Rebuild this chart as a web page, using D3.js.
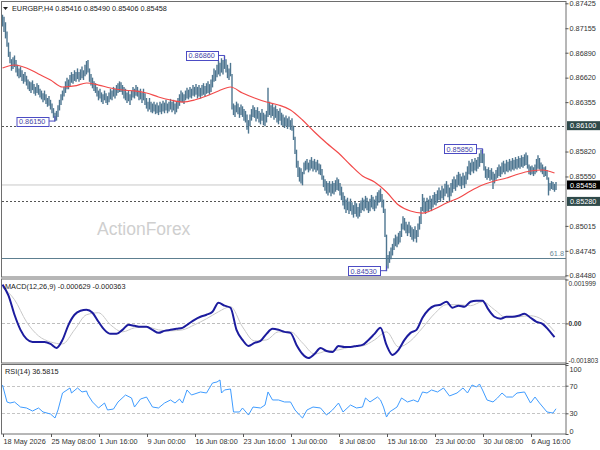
<!DOCTYPE html>
<html>
<head>
<meta charset="utf-8">
<script src="https://cdn.jsdelivr.net/npm/d3@7"></script>
<style>
body { margin: 0; background: #fff; }
text { font-family: "Liberation Sans", Arial, sans-serif; }
</style>
</head>
<body>
<svg id="chart" width="600" height="450"></svg>
<script>
//dimensions of the svg
var width = 600, height = 450;

//EURGBP H4 bars (one entry per bar)
var highs = [
 .8730,.8728,.8722,.8712,.8700,.8690,.8682,.8684,.8686,.8681,
 .8676,.8672,.8674,.8670,.8666,.8668,.8664,.8660,.8658,.8657,
 .8659,.8655,.8652,.8656,.8654,.8650,.8648,.8645,.8648,.8644,
 .8640,.8642,.8638,.8634,.8629,.8624,.8626,.8632,.8638,.8644,
 .8648,.8652,.8658,.8662,.8660,.8665,.8668,.8666,.8670,.8668,
 .8672,.8668,.8671,.8674,.8670,.8676,.8680,.8681,.8672,.8666,
 .8662,.8658,.8656,.8652,.8648,.8650,.8646,.8644,.8648,.8645,
 .8642,.8646,.8650,.8648,.8652,.8650,.8654,.8656,.8658,.8657,
 .8654,.8652,.8650,.8646,.8648,.8644,.8648,.8652,.8650,.8654,
 .8652,.8648,.8650,.8646,.8650,.8645,.8640,.8636,.8640,.8636,
 .8634,.8636,.8633,.8635,.8632,.8636,.8634,.8637,.8635,.8638,
 .8634,.8636,.8639,.8636,.8638,.8634,.8636,.8640,.8644,.8648,
 .8646,.8644,.8648,.8651,.8649,.8652,.8650,.8654,.8652,.8655,
 .8652,.8654,.8651,.8654,.8656,.8653,.8656,.8658,.8655,.8660,
 .8665,.8672,.8670,.8676,.8680,.8678,.8683,.8681,.8686,.8682,
 .8676,.8672,.8678,.8666,.8634,.8632,.8636,.8634,.8630,.8633,
 .8631,.8628,.8626,.8622,.8616,.8622,.8628,.8632,.8630,.8627,
 .8630,.8626,.8624,.8628,.8624,.8622,.8626,.8651,.8636,.8632,
 .8634,.8630,.8632,.8628,.8626,.8629,.8624,.8622,.8619,.8621,
 .8618,.8620,.8616,.8618,.8610,.8598,.8584,.8572,.8565,.8564,
 .8560,.8570,.8572,.8574,.8570,.8573,.8576,.8572,.8574,.8571,
 .8573,.8569,.8568,.8563,.8556,.8552,.8550,.8548,.8550,.8547,
 .8550,.8548,.8551,.8554,.8552,.8548,.8544,.8538,.8534,.8530,
 .8532,.8528,.8531,.8527,.8524,.8528,.8526,.8522,.8526,.8529,
 .8532,.8530,.8534,.8532,.8528,.8531,.8535,.8533,.8530,.8534,
 .8538,.8540,.8542,.8536,.8530,.8520,.8492,.8470,.8474,.8478,
 .8482,.8488,.8492,.8490,.8494,.8496,.8504,.8512,.8510,.8506,
 .8503,.8506,.8502,.8500,.8498,.8501,.8497,.8504,.8512,.8522,
 .8536,.8532,.8528,.8532,.8530,.8534,.8531,.8535,.8538,.8536,
 .8540,.8543,.8540,.8545,.8542,.8547,.8550,.8546,.8543,.8548,
 .8552,.8555,.8552,.8557,.8560,.8558,.8555,.8559,.8556,.8560,
 .8566,.8572,.8570,.8574,.8571,.8575,.8573,.8576,.8580,.8584,
 .8585,.8580,.8566,.8563,.8565,.8562,.8564,.8560,.8558,.8562,
 .8565,.8568,.8566,.8570,.8572,.8569,.8573,.8571,.8574,.8572,
 .8575,.8573,.8576,.8574,.8577,.8575,.8578,.8576,.8579,.8581,
 .8578,.8568,.8566,.8567,.8565,.8568,.8574,.8578,.8575,.8570,
 .8568,.8565,.8566,.8562,.8554,.8548,.8550,.8549,.8547,.8549
];
var lows = [
 .8718,.8712,.8705,.8696,.8685,.8678,.8670,.8672,.8674,.8668,
 .8664,.8662,.8663,.8659,.8656,.8658,.8654,.8650,.8648,.8646,
 .8649,.8645,.8643,.8646,.8644,.8641,.8639,.8636,.8638,.8634,
 .8631,.8632,.8628,.8624,.8619,.8615,.8616,.8620,.8627,.8633,
 .8638,.8642,.8646,.8650,.8650,.8653,.8657,.8656,.8659,.8658,
 .8661,.8658,.8660,.8662,.8660,.8664,.8666,.8668,.8658,.8654,
 .8651,.8648,.8646,.8642,.8638,.8640,.8636,.8634,.8638,.8635,
 .8633,.8636,.8639,.8638,.8642,.8640,.8643,.8646,.8647,.8647,
 .8644,.8640,.8638,.8635,.8637,.8633,.8638,.8641,.8640,.8643,
 .8642,.8638,.8639,.8635,.8638,.8633,.8629,.8626,.8628,.8625,
 .8624,.8626,.8623,.8624,.8622,.8625,.8623,.8626,.8624,.8627,
 .8624,.8626,.8628,.8625,.8627,.8623,.8625,.8629,.8632,.8636,
 .8636,.8634,.8638,.8640,.8639,.8641,.8640,.8643,.8642,.8644,
 .8640,.8642,.8640,.8643,.8644,.8642,.8645,.8646,.8644,.8647,
 .8652,.8658,.8659,.8663,.8666,.8664,.8668,.8666,.8672,.8668,
 .8662,.8660,.8664,.8628,.8622,.8620,.8625,.8623,.8619,.8622,
 .8620,.8616,.8614,.8606,.8602,.8610,.8616,.8620,.8619,.8615,
 .8618,.8614,.8612,.8616,.8611,.8610,.8614,.8620,.8622,.8619,
 .8621,.8617,.8619,.8614,.8612,.8616,.8611,.8610,.8608,.8610,
 .8607,.8609,.8606,.8605,.8595,.8580,.8565,.8555,.8550,.8548,
 .8546,.8558,.8562,.8563,.8560,.8562,.8564,.8561,.8563,.8560,
 .8562,.8558,.8557,.8552,.8544,.8540,.8537,.8535,.8538,.8534,
 .8537,.8536,.8539,.8541,.8540,.8535,.8530,.8524,.8520,.8516,
 .8519,.8515,.8518,.8514,.8511,.8515,.8512,.8510,.8512,.8516,
 .8519,.8518,.8521,.8519,.8516,.8518,.8522,.8520,.8518,.8521,
 .8524,.8527,.8528,.8522,.8516,.8490,.8453,.8456,.8462,.8466,
 .8470,.8476,.8480,.8479,.8482,.8484,.8490,.8498,.8497,.8494,
 .8491,.8494,.8490,.8487,.8485,.8488,.8484,.8490,.8498,.8504,
 .8518,.8517,.8515,.8518,.8517,.8520,.8518,.8522,.8525,.8524,
 .8527,.8530,.8528,.8532,.8530,.8534,.8537,.8533,.8528,.8534,
 .8538,.8542,.8540,.8544,.8546,.8545,.8542,.8546,.8543,.8547,
 .8552,.8558,.8557,.8561,.8559,.8562,.8561,.8564,.8566,.8570,
 .8570,.8562,.8554,.8552,.8554,.8551,.8552,.8542,.8548,.8552,
 .8554,.8556,.8555,.8558,.8560,.8558,.8561,.8560,.8562,.8561,
 .8563,.8562,.8564,.8563,.8565,.8564,.8566,.8565,.8567,.8568,
 .8564,.8558,.8557,.8558,.8556,.8558,.8560,.8564,.8563,.8560,
 .8558,.8555,.8556,.8552,.8535,.8540,.8542,.8541,.8539,.8541
];

//red moving average, one reading every 8 bars
var maStep = 8;
var maValues = [0.86725,0.86757,0.86725,0.86660,0.86595,0.86519,0.86530,0.86562,0.86540,0.86508,
 0.86486,0.86476,0.86454,0.86411,0.86378,0.86356,0.86378,0.86421,0.86476,0.86519,
 0.86454,0.86400,0.86356,0.86324,0.86270,0.86161,0.86031,0.85912,0.85804,0.85674,
 0.85555,0.85490,0.85382,0.85241,0.85176,0.85154,0.85198,0.85263,0.85317,0.85393,
 0.85457,0.85501,0.85533,0.85577,0.85609,0.85620,0.85587];

//MACD(12,26,9): main line every 4 bars, signal every 8 bars
var macdStep = 4;
var macdMain = [0.001768,0.001264,0.000394,-0.000293,-0.000705,-0.000843,-0.000843,-0.000843,-0.000934,-0.001118,
 -0.000751,-0.000064,0.000394,0.000577,0.000623,0.000485,0.000073,-0.000293,-0.000476,-0.000476,
 -0.000293,-0.000064,-0.000110,-0.000156,-0.000156,-0.000293,-0.000431,-0.000339,-0.000293,-0.000247,
 -0.000202,-0.000018,0.000165,0.000302,0.000394,0.000531,0.000943,0.000806,0.000714,-0.000293,
 -0.000751,-0.001026,-0.000889,-0.000797,-0.000476,-0.000247,-0.000293,-0.000385,-0.000431,-0.000980,
 -0.001392,-0.001576,-0.001392,-0.001118,-0.001255,-0.001301,-0.001026,-0.001072,-0.001072,-0.001026,
 -0.000980,-0.000751,-0.000476,-0.000202,-0.000980,-0.001438,-0.001209,-0.000751,-0.000431,-0.000293,
 0.000256,0.000623,0.000806,0.000852,0.000989,0.000714,0.000806,0.000760,0.000989,0.001035,
 0.001035,0.000623,0.000302,0.000211,0.000302,0.000302,0.000348,0.000440,0.000256,0.000073,
 -0.000018,-0.000293,-0.000629];
var signalStep = 8;
var macdSignal = [0.001630,0.001081,0.000073,-0.000568,-0.000843,-0.000934,-0.000293,0.000394,0.000485,-0.000064,
 -0.000385,-0.000202,-0.000156,-0.000293,-0.000339,-0.000293,-0.000064,0.000211,0.000531,0.000760,
 -0.000156,-0.000797,-0.000751,-0.000385,-0.000385,-0.000889,-0.001392,-0.001255,-0.001209,-0.001072,
 -0.001026,-0.000751,-0.000385,-0.001072,-0.000797,-0.000202,0.000440,0.000852,0.000852,0.000806,
 0.000989,0.000623,0.000256,0.000302,0.000348,0.000165,-0.000363];

//RSI(14) readings at bar positions
var rsiBars = [0,3,5,8,12,16,20,24,27,32,35,37,40,45,46,50,53,56,57,60,64,68,70,74,77,82,86,88,92,96,
 100,104,108,112,115,118,120,123,126,132,136,140,143,145,146,148,152,154,158,160,164,167,172,175,177,180,184,188,192,195,
 198,200,203,207,212,216,220,224,227,232,236,240,242,245,250,252,254,256,258,263,266,270,274,277,280,283,286,290,294,298,
 303,307,310,313,316,318,320,323,327,330,333,336,340,343,348,352,355,358,363,367,369];
var rsiValues = [71.0,46.4,44.9,46.4,39.1,37.7,33.3,37.7,31.9,29.0,23.2,34.8,59.4,66.7,59.4,66.7,60.9,62.3,56.5,46.4,
 37.7,44.9,34.8,36.2,46.4,56.5,52.2,39.1,50.7,53.6,39.1,37.7,44.9,49.3,44.9,50.7,44.9,63.8,56.5,60.9,
 59.4,73.9,75.4,78.3,59.4,63.8,65.2,31.9,31.9,37.7,27.5,39.1,37.7,42.0,60.9,49.3,49.3,46.4,46.4,34.8,
 27.5,23.2,34.8,39.1,37.7,27.5,34.8,44.9,31.9,42.0,37.7,39.1,52.2,46.4,53.6,49.3,39.1,24.6,31.9,39.1,
 52.2,46.4,49.3,46.4,60.9,59.4,63.8,60.9,66.7,55.1,59.4,66.7,59.4,71.0,68.1,72.5,63.8,49.3,46.4,52.2,
 59.4,53.6,53.6,59.4,60.9,44.9,53.6,44.9,31.9,30.4,36.6];

//swing high / low tags
var swingBars = [35, 148, 256, 320];
var swingPrices = [0.86150, 0.86860, 0.84530, 0.85850];
var swingIsHigh = [false, true, false, true];

//horizontal levels
var dottedLevels = [0.86100, 0.85280];
var lastPrice = 0.85458;
var fibLevel = 0.84666, fibLabel = '61.8';

//axis ticks
var priceTicks = [0.87425,0.87155,0.86890,0.86620,0.86355,0.85820,0.85550,0.85015,0.84745,0.84480];
var macdTicks = [0.001999, 0.0, -0.001803];
var rsiTicks = [100, 70, 30, 0];
var rsiLevels = [70, 30];
var timeBars = [0,32,64,96,128,160,192,224,256,288,320,352];
var timeLabels = ['18 May 2026','25 May 08:00','1 Jun 16:00','9 Jun 00:00','16 Jun 08:00','23 Jun 16:00',
 '1 Jul 00:00','8 Jul 08:00','15 Jul 16:00','23 Jul 00:00','30 Jul 08:00','6 Aug 16:00'];

//panel boxes (left, top, right, bottom)
var axisX = 566;
var mainBox = [2, 2, axisX, 277];
var macdBox = [2, 279.5, axisX, 363];
var rsiBox = [2, 365, axisX, 434];

var svg = d3.select('#chart');
var fs = 7.3;

//scales
var x = d3.scaleLinear().domain([0, highs.length - 1]).range([2.5, 556]);
var yPrice = d3.scaleLinear().domain([0.84480, 0.87425]).range([275.3, 3.3]);
var yMacd = d3.scaleLinear().domain([-0.001803, 0.001999]).range([macdBox[3], macdBox[1]]);
var yRsi = d3.scaleLinear().domain([0, 100]).range([rsiBox[3], rsiBox[1]]);

svg.append('rect').attr('width', width).attr('height', height).attr('fill', '#fff');

//clip paths for the three panels
var defs = svg.append('defs');
[['clipMain', mainBox], ['clipMacd', macdBox], ['clipRsi', rsiBox]].forEach(function(c){
  defs.append('clipPath').attr('id', c[0]).append('rect')
    .attr('x', c[1][0]).attr('y', c[1][1])
    .attr('width', c[1][2] - c[1][0]).attr('height', c[1][3] - c[1][1]);
});

// ---------- main panel ----------
var main = svg.append('g').attr('clip-path', 'url(#clipMain)');

main.append('text')
  .attr('x', 97).attr('y', 235)
  .attr('font-size', 17.5)
  .attr('fill', '#cfcfcf')
  .text('ActionForex');

main.append('line')
  .attr('x1', mainBox[0]).attr('x2', axisX)
  .attr('y1', yPrice(lastPrice)).attr('y2', yPrice(lastPrice))
  .attr('stroke', '#c8c8c8');

main.selectAll('.dotted')
  .data(dottedLevels)
  .enter().append('line')
  .attr('x1', mainBox[0]).attr('x2', axisX)
  .attr('y1', function(d){ return Math.round(yPrice(d)) + 0.5; })
  .attr('y2', function(d){ return Math.round(yPrice(d)) + 0.5; })
  .attr('stroke', '#555')
  .attr('stroke-dasharray', '2,2');

main.append('line')
  .attr('x1', mainBox[0]).attr('x2', axisX)
  .attr('y1', Math.round(yPrice(fibLevel)) + 0.5).attr('y2', Math.round(yPrice(fibLevel)) + 0.5)
  .attr('stroke', '#5d7f90');
main.append('text')
  .attr('x', axisX - 2).attr('y', yPrice(fibLevel) - 2)
  .attr('text-anchor', 'end')
  .attr('font-size', fs).attr('fill', '#6a8796')
  .text(fibLabel);

//price bars (high-low)
main.selectAll('.bar')
  .data(highs)
  .enter().append('line')
  .attr('class', 'bar')
  .attr('x1', function(d, i){ return x(i); })
  .attr('x2', function(d, i){ return x(i); })
  .attr('y1', function(d){ return yPrice(d); })
  .attr('y2', function(d, i){ return yPrice(lows[i]) + 0.5; })
  .attr('stroke', '#4e7690')
  .attr('stroke-width', 1.4);

//moving average
var maLine = d3.line()
  .x(function(d, i){ return x(i * maStep); })
  .y(function(d){ return yPrice(d); })
  .curve(d3.curveMonotoneX);
main.append('path')
  .attr('d', maLine(maValues))
  .attr('fill', 'none')
  .attr('stroke', '#f24a4a')
  .attr('stroke-width', 1.2);

//swing tags
var tagW = 32, tagH = 9;
swingBars.forEach(function(b, i){
  var bx = x(b), py = yPrice(swingPrices[i]);
  var right = bx - 6.5;
  var g = main.append('g');
  g.append('path')
    .attr('d', 'M' + right + ',' + py + 'H' + bx + 'V' + (swingIsHigh[i] ? py + 5 : py - 5))
    .attr('fill', 'none').attr('stroke', '#4c4cc4');
  g.append('rect')
    .attr('x', right - tagW + 0.5).attr('y', Math.round(py - tagH / 2) + 0.5)
    .attr('width', tagW).attr('height', tagH)
    .attr('fill', '#fff').attr('stroke', '#4c4cc4');
  g.append('text')
    .attr('x', right - tagW + 2.5).attr('y', py + 3)
    .attr('font-size', fs).attr('fill', '#4646a8')
    .text(swingPrices[i].toFixed(5));
});

//header
svg.append('path').attr('d', 'M3,7H8L5.5,10Z').attr('fill', '#222');
svg.append('text')
  .attr('x', 12).attr('y', 11)
  .attr('font-size', fs).attr('fill', '#222')
  .text('EURGBP,H4  0.85416 0.85490 0.85406 0.85458');

// ---------- MACD panel ----------
var macdG = svg.append('g').attr('clip-path', 'url(#clipMacd)');
macdG.append('line')
  .attr('x1', macdBox[0]).attr('x2', axisX)
  .attr('y1', Math.round(yMacd(0)) + 0.5).attr('y2', Math.round(yMacd(0)) + 0.5)
  .attr('stroke', '#bdbdbd').attr('stroke-dasharray', '3,2');

var signalLine = d3.line()
  .x(function(d, i){ return x(i * signalStep); })
  .y(function(d){ return yMacd(d); })
  .curve(d3.curveMonotoneX);
macdG.append('path')
  .attr('d', signalLine(macdSignal))
  .attr('fill', 'none').attr('stroke', '#c8c8c8').attr('stroke-width', 1);

var mainMacdLine = d3.line()
  .x(function(d, i){ return x(i * macdStep); })
  .y(function(d){ return yMacd(d); })
  .curve(d3.curveMonotoneX);
macdG.append('path')
  .attr('d', mainMacdLine(macdMain))
  .attr('fill', 'none').attr('stroke', '#1c1c9e').attr('stroke-width', 2);

svg.append('text')
  .attr('x', 5).attr('y', 289)
  .attr('font-size', fs).attr('fill', '#222')
  .text('MACD(12,26,9) -0.000629 -0.000363');

// ---------- RSI panel ----------
var rsiG = svg.append('g').attr('clip-path', 'url(#clipRsi)');
rsiG.selectAll('.lvl')
  .data(rsiLevels)
  .enter().append('line')
  .attr('x1', rsiBox[0]).attr('x2', axisX)
  .attr('y1', function(d){ return Math.round(yRsi(d)) + 0.5; })
  .attr('y2', function(d){ return Math.round(yRsi(d)) + 0.5; })
  .attr('stroke', '#c4c4c4').attr('stroke-dasharray', '3,2');

var rsiLine = d3.line()
  .x(function(d, i){ return x(rsiBars[i]); })
  .y(function(d){ return yRsi(d); });
rsiG.append('path')
  .attr('d', rsiLine(rsiValues))
  .attr('fill', 'none').attr('stroke', '#3f9cff').attr('stroke-width', 1);

svg.append('text')
  .attr('x', 5).attr('y', 374)
  .attr('font-size', fs).attr('fill', '#222')
  .text('RSI(14) 36.5815');

// ---------- frames ----------
[mainBox, macdBox, rsiBox].forEach(function(b){
  svg.append('rect')
    .attr('x', b[0] - 0.5).attr('y', b[1] - 0.5)
    .attr('width', b[2] - b[0] + 0.5).attr('height', b[3] - b[1] + 0.5)
    .attr('fill', 'none').attr('stroke', '#6e6e6e');
});

// ---------- right axes ----------
var priceAxis = d3.axisRight(yPrice).tickValues(priceTicks).tickSize(3)
  .tickFormat(function(d){ return d.toFixed(5); });
var gp = svg.append('g').attr('transform', 'translate(' + (axisX - 0.5) + ',0)').call(priceAxis);

var macdAxis = d3.axisRight(yMacd).tickValues(macdTicks).tickSize(3)
  .tickFormat(function(d){ return d === 0 ? '0.00' : d.toFixed(6); });
var gm = svg.append('g').attr('transform', 'translate(' + (axisX - 0.5) + ',0)').call(macdAxis);

var rsiAxis = d3.axisRight(yRsi).tickValues(rsiTicks).tickSize(3);
var gr = svg.append('g').attr('transform', 'translate(' + (axisX - 0.5) + ',0)').call(rsiAxis);

[gp, gm, gr].forEach(function(g){
  g.select('.domain').remove();
  g.selectAll('line').attr('stroke', '#555');
  g.selectAll('text')
    .attr('x', 4)
    .attr('font-size', fs)
    .attr('font-family', '"Liberation Sans", Arial, sans-serif')
    .attr('fill', '#333');
});
//keep the extreme labels inside their panels
gm.selectAll('text')
  .attr('x', 3)
  .attr('font-size', 6.6)
  .attr('dy', function(d){ return d > 0 ? '0.9em' : (d < 0 ? '-0.1em' : '0.32em'); })
  .attr('font-weight', function(d){ return d === 0 ? 'bold' : null; });
gr.selectAll('text').attr('dy', function(d){ return d === 100 ? '0.9em' : (d === 0 ? '-0.1em' : '0.32em'); });

//highlighted price tags on the axis
var tags = [[dottedLevels[0], '#2f4a4a'], [lastPrice, '#000'], [dottedLevels[1], '#2f4a4a']];
tags.forEach(function(t){
  var ty = yPrice(t[0]);
  svg.append('rect')
    .attr('x', axisX + 1).attr('y', ty - 4.5)
    .attr('width', 33).attr('height', 9)
    .attr('fill', t[1]);
  svg.append('text')
    .attr('x', axisX + 4).attr('y', ty + 2.7)
    .attr('font-size', fs).attr('fill', '#fff')
    .text(t[0].toFixed(5));
});

// ---------- time axis ----------
svg.selectAll('.tick-t')
  .data(timeBars)
  .enter().append('line')
  .attr('x1', function(d){ return Math.round(x(d)) + 0.5; })
  .attr('x2', function(d){ return Math.round(x(d)) + 0.5; })
  .attr('y1', rsiBox[3]).attr('y2', rsiBox[3] + 3)
  .attr('stroke', '#555');
svg.selectAll('.lbl-t')
  .data(timeBars)
  .enter().append('text')
  .attr('x', function(d){ return x(d) + 1; })
  .attr('y', 444)
  .attr('font-size', fs).attr('fill', '#333')
  .text(function(d, i){ return timeLabels[i]; });
</script>
</body>
</html>
